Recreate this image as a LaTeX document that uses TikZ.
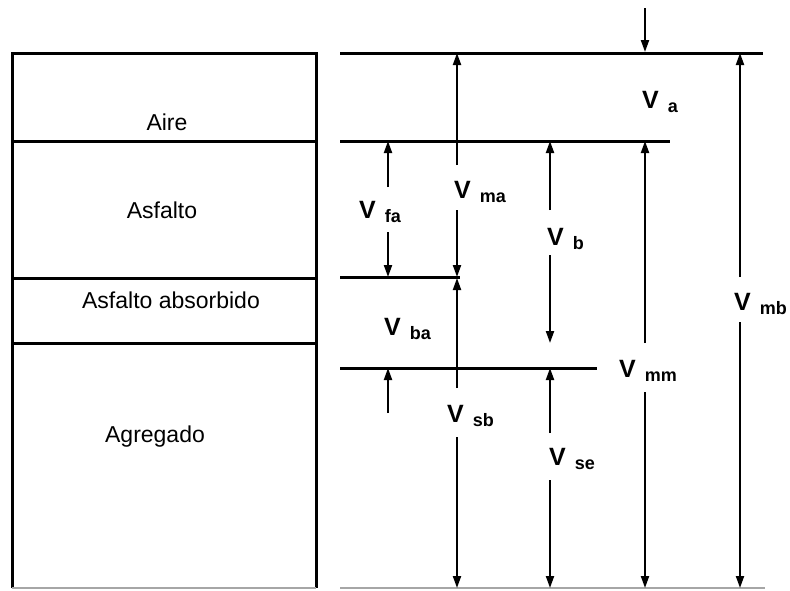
\documentclass[tikz,border=0pt]{standalone}
\usepackage{fontspec}
\setmainfont{Liberation Sans}
\usetikzlibrary{arrows.meta}
% volume symbol: bold V with a lowered bold subscript set apart
\newcommand\vol[1]{{\fontsize{25}{25}\selectfont\bfseries V}\hspace{9pt}\raisebox{-4pt}{\fontsize{18}{18}\selectfont\bfseries #1}}
\begin{document}
\begin{tikzpicture}[x=1pt,y=-1pt,
  level/.style={line width=3pt},
  faint/.style={line width=1.5pt,draw=gray!70},
  dim/.style={line width=2pt,-{Triangle[length=12pt,width=8pt]}},
  lab/.style={anchor=base west,inner sep=0pt},
  layer/.style={anchor=base,inner sep=0pt,font=\fontsize{23}{23}\selectfont}]
\useasboundingbox (0,0) rectangle (790,590);

% ---- component column ----
\draw[line width=3pt,line join=miter] (12,588) -- (12,53) -- (316,53) -- (316,588);
\draw[faint] (12,588) -- (316,588);
\draw[level] (12,141) -- (316,141);
\draw[level] (12,278) -- (316,278);
\draw[level] (12,343) -- (316,343);
\node[layer] (aire) at (167,130) {Aire};
\node[layer] (asf) at (162,218) {Asfalto};
\node[layer] (abs) at (171,308) {Asfalto absorbido};
\node[layer] (agr) at (155,442) {Agregado};

% ---- level lines ----
\draw[level] (340,53) -- (763,53);
\draw[level] (340,141) -- (670,141);
\draw[level] (340,277) -- (460,277);
\draw[level] (340,368) -- (597,368);
\draw[faint] (340,588) -- (765,588);

% ---- end points of the dimension arrows ----
\coordinate (top0) at (645,8);   \coordinate (top1) at (645,52);
\coordinate (ma0) at (457,53);   \coordinate (ma1) at (457,277);
\coordinate (fa0) at (388,141);  \coordinate (fa1) at (388,277);
\coordinate (b0) at (550,141);   \coordinate (b1) at (550,343);
\coordinate (mm0) at (645,141);  \coordinate (mm1) at (645,588);
\coordinate (mb0) at (740,53);   \coordinate (mb1) at (740,588);
\coordinate (sb0) at (457,278);  \coordinate (sb1) at (457,588);
\coordinate (ba0) at (388,368);  \coordinate (ba1) at (388,413);
\coordinate (se0) at (550,368);  \coordinate (se1) at (550,588);

% gap ends on either side of each label
\coordinate (ma2) at (457,165);  \coordinate (ma3) at (457,210);
\coordinate (fa2) at (388,187);  \coordinate (fa3) at (388,232);
\coordinate (b2) at (550,210);   \coordinate (b3) at (550,255);
\coordinate (mm2) at (645,343);  \coordinate (mm3) at (645,392);
\coordinate (mb2) at (740,277);  \coordinate (mb3) at (740,322);
\coordinate (sb2) at (457,388);  \coordinate (sb3) at (457,437);
\coordinate (se2) at (550,433);  \coordinate (se3) at (550,480);

% ---- labels ----
\node[lab] (Va)  at (642,108) {\vol{a}};
\node[lab] (Vma) at (454,198) {\vol{ma}};
\node[lab] (Vfa) at (359,218) {\vol{fa}};
\node[lab] (Vb)  at (547,245) {\vol{b}};
\node[lab] (Vmb) at (734,310) {\vol{mb}};
\node[lab] (Vba) at (384,335) {\vol{ba}};
\node[lab] (Vmm) at (619,377) {\vol{mm}};
\node[lab] (Vsb) at (447,422) {\vol{sb}};
\node[lab] (Vse) at (549,465) {\vol{se}};

% ---- dimension arrows ----
\draw[dim] (top0) -- (top1);
\draw[dim] (ma2) -- (ma0);  \draw[dim] (ma3) -- (ma1);
\draw[dim] (fa2) -- (fa0);  \draw[dim] (fa3) -- (fa1);
\draw[dim] (b2) -- (b0);    \draw[dim] (b3) -- (b1);
\draw[dim] (mm2) -- (mm0);  \draw[dim] (mm3) -- (mm1);
\draw[dim] (mb2) -- (mb0);  \draw[dim] (mb3) -- (mb1);
\draw[dim] (sb2) -- (sb0);  \draw[dim] (sb3) -- (sb1);
\draw[dim] (ba1) -- (ba0);
\draw[dim] (se2) -- (se0);  \draw[dim] (se3) -- (se1);
\end{tikzpicture}
\end{document}
